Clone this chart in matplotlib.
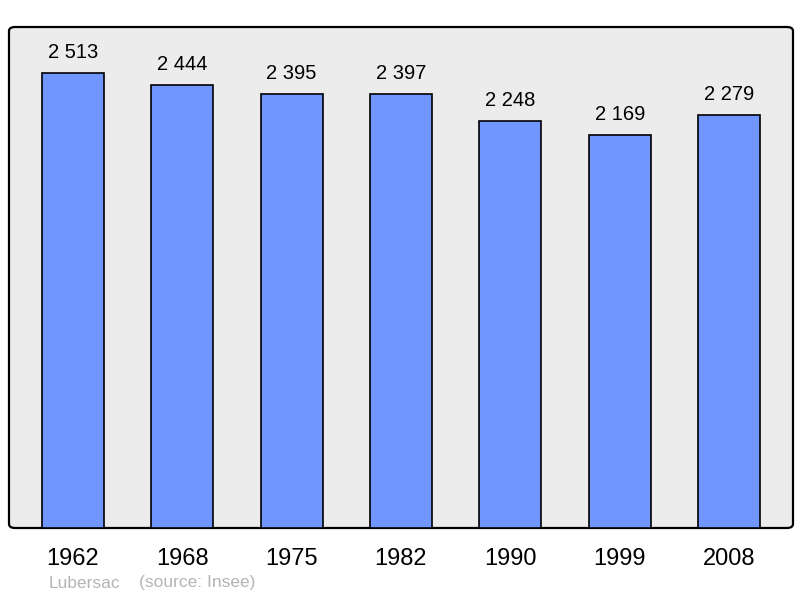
import matplotlib.pyplot as plt
from matplotlib.patches import FancyBboxPatch

plt.rcParams['font.family'] = ['Liberation Sans', 'DejaVu Sans']

# données
years = ['1962', '1968', '1975', '1982', '1990', '1999', '2008']
population = [2513, 2444, 2395, 2397, 2248, 2169, 2279]
value_labels = ['2 513', '2 444', '2 395', '2 397', '2 248', '2 169', '2 279']

fig = plt.figure(figsize=(8.0, 5.98), dpi=100)
# zone du graphique : x 9..793, y 27..528 (pixels)
ax = fig.add_axes([9 / 800, 1 - 528 / 598, 784 / 800, 501 / 598])
ax.set_xlim(-0.585, 6.585)
ax.set_ylim(0, 2767)
ax.axis('off')

# fond arrondi
bg = FancyBboxPatch((0, 0), 1, 1, boxstyle='round,pad=0,rounding_size=0.008',
                    transform=ax.transAxes, facecolor='#ececec', edgecolor='black',
                    linewidth=1.6, zorder=0, clip_on=False)
ax.add_patch(bg)

xs = list(range(len(years)))
ax.bar(xs, population, width=0.567, color='#7096ff', edgecolor='black',
       linewidth=1.2, zorder=2)

for x, v, lab in zip(xs, population, value_labels):
    ax.annotate(lab, (x, v), xytext=(0, 15), textcoords='offset points',
                ha='center', va='center', fontsize=14.5, color='black')

for x, y in zip(xs, years):
    ax.annotate(y, (x, 0), xytext=(0, -22.5), textcoords='offset points',
                ha='center', va='center', fontsize=17, color='black',
                annotation_clip=False)

fig.text(49 / 800, 1 - 583 / 598, 'Lubersac', fontsize=12.5, color='#b4b4b4',
         va='center', ha='left')
fig.text(139 / 800, 1 - 583 / 598, '(source: Insee)', fontsize=12.5,
         color='#b4b4b4', va='center', ha='left')

fig.savefig('out.png', dpi=100)
